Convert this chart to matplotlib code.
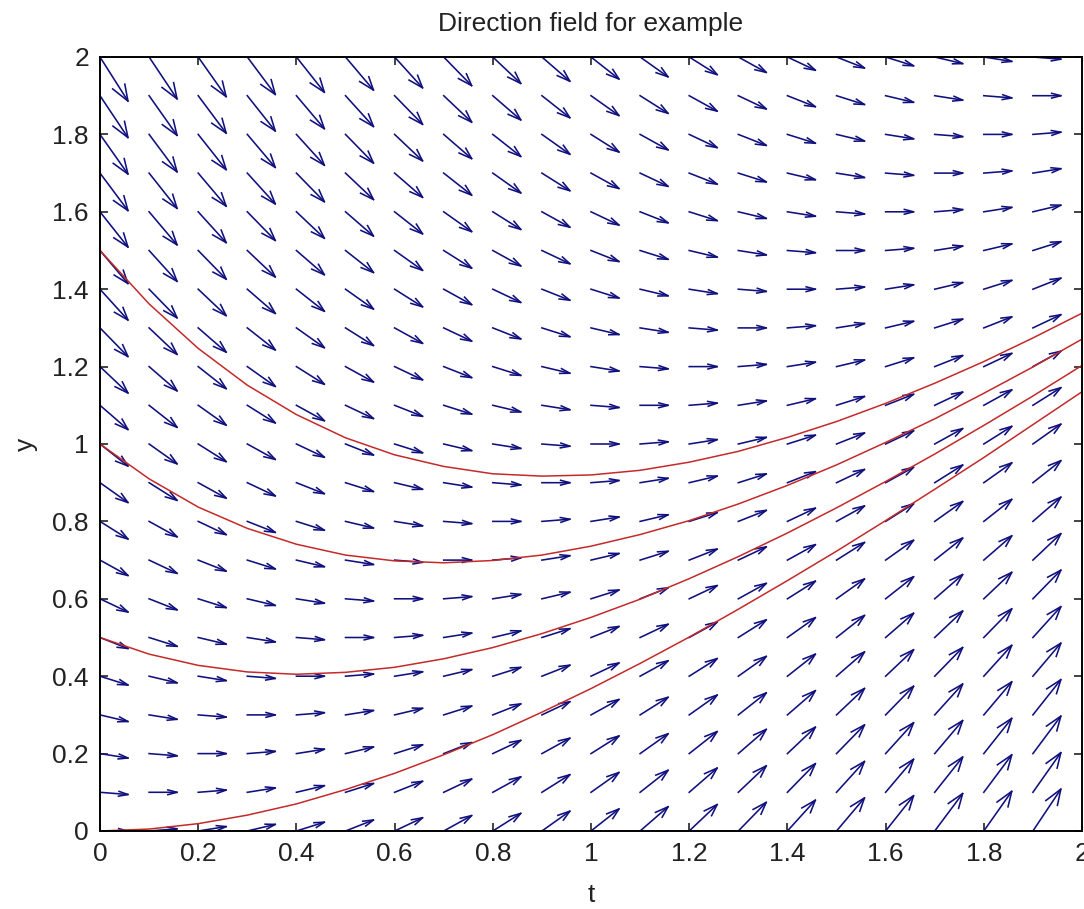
import numpy as np
import matplotlib
matplotlib.use('Agg')
import matplotlib.pyplot as plt

FIG_W, FIG_H, DPI = 10.84, 9.09, 100
ARROW_COLOUR = '#10107e'
CURVE_COLOUR = '#c42a2a'

# grid of the direction field (t across, y up)
t_grid = [0.0, 0.1, 0.2, 0.3, 0.4, 0.5, 0.6, 0.7, 0.8, 0.9, 1.0,
          1.1, 1.2, 1.3, 1.4, 1.5, 1.6, 1.7, 1.8, 1.9, 2.0]
y_grid = [0.0, 0.1, 0.2, 0.3, 0.4, 0.5, 0.6, 0.7, 0.8, 0.9, 1.0,
          1.1, 1.2, 1.3, 1.4, 1.5, 1.6, 1.7, 1.8, 1.9, 2.0]

# red solution curves at t = 0, 0.1, ..., 2
curve_t = t_grid
curve_from_0 = [0.0, 0.005, 0.019, 0.041, 0.070, 0.107, 0.149, 0.197, 0.249, 0.307, 0.368,
                0.433, 0.501, 0.573, 0.647, 0.723, 0.802, 0.883, 0.965, 1.050, 1.135]
curve_from_05 = [0.5, 0.457, 0.428, 0.411, 0.405, 0.410, 0.423, 0.445, 0.474, 0.510, 0.552,
                 0.599, 0.652, 0.709, 0.770, 0.835, 0.903, 0.974, 1.048, 1.124, 1.203]
curve_from_1 = [1.0, 0.910, 0.837, 0.782, 0.741, 0.713, 0.698, 0.693, 0.699, 0.713, 0.736,
                0.766, 0.802, 0.845, 0.893, 0.946, 1.004, 1.065, 1.131, 1.199, 1.271]
curve_from_15 = [1.5, 1.362, 1.247, 1.152, 1.076, 1.016, 0.972, 0.942, 0.923, 0.917, 0.920,
                 0.932, 0.953, 0.981, 1.017, 1.058, 1.105, 1.157, 1.213, 1.274, 1.338]

tick_vals = [0, 0.2, 0.4, 0.6, 0.8, 1.0, 1.2, 1.4, 1.6, 1.8, 2.0]
tick_labels = ['0', '0.2', '0.4', '0.6', '0.8', '1', '1.2', '1.4', '1.6', '1.8', '2']


def slope(t, y):
    # the example ODE: dy/dt = t - y
    return t - y


def arrow_paths(t_vals, y_vals):
    """matlab style quiver: shafts and open heads as nan separated polylines"""
    T, Y = np.meshgrid(t_vals, y_vals)
    U = np.ones_like(T)
    V = slope(T, Y)
    # autoscale the way quiver does it
    dx = dy = t_vals[1] - t_vals[0]
    scale = 0.9 / np.sqrt((U ** 2 + V ** 2) / (dx ** 2 + dy ** 2)).max()
    x, y = T.ravel(), Y.ravel()
    u, v = U.ravel() * scale, V.ravel() * scale
    gap = np.full(x.size, np.nan)
    alpha, beta = 0.33, 0.33
    sx = np.column_stack([x, x + u, gap]).ravel()
    sy = np.column_stack([y, y + v, gap]).ravel()
    hx = np.column_stack([x + u - alpha * (u + beta * v), x + u,
                          x + u - alpha * (u - beta * v), gap]).ravel()
    hy = np.column_stack([y + v - alpha * (v - beta * u), y + v,
                          y + v - alpha * (v + beta * u), gap]).ravel()
    return sx, sy, hx, hy


plt.rcParams['font.family'] = ['Liberation Sans', 'DejaVu Sans']

fig = plt.figure(figsize=(FIG_W, FIG_H), dpi=DPI)
ax = fig.add_axes([100 / 1084, 1 - 831 / 909, 982 / 1084, 774 / 909])

sx, sy, hx, hy = arrow_paths(t_grid, y_grid)
ax.plot(sx, sy, color=ARROW_COLOUR, lw=1.15)
ax.plot(hx, hy, color=ARROW_COLOUR, lw=1.15)

for ys in (curve_from_0, curve_from_05, curve_from_1, curve_from_15):
    ax.plot(curve_t, ys, color=CURVE_COLOUR, lw=1.1)

ax.set_xlim(0, 2)
ax.set_ylim(0, 2)
ax.set_xticks(tick_vals)
ax.set_xticklabels(tick_labels)
ax.set_yticks(tick_vals)
ax.set_yticklabels(tick_labels)
ax.tick_params(direction='in', length=6, width=1.2, top=True, right=True,
               labelsize=19, pad=8, colors='#222222')
for sp in ax.spines.values():
    sp.set_linewidth(1.4)

ax.set_title('Direction field for example', fontsize=19, pad=19, color='#222222')
ax.set_xlabel('t', fontsize=19, labelpad=12, color='#222222')
ax.set_ylabel('y', fontsize=19, labelpad=10, color='#222222')

fig.savefig('out.png', dpi=DPI)
